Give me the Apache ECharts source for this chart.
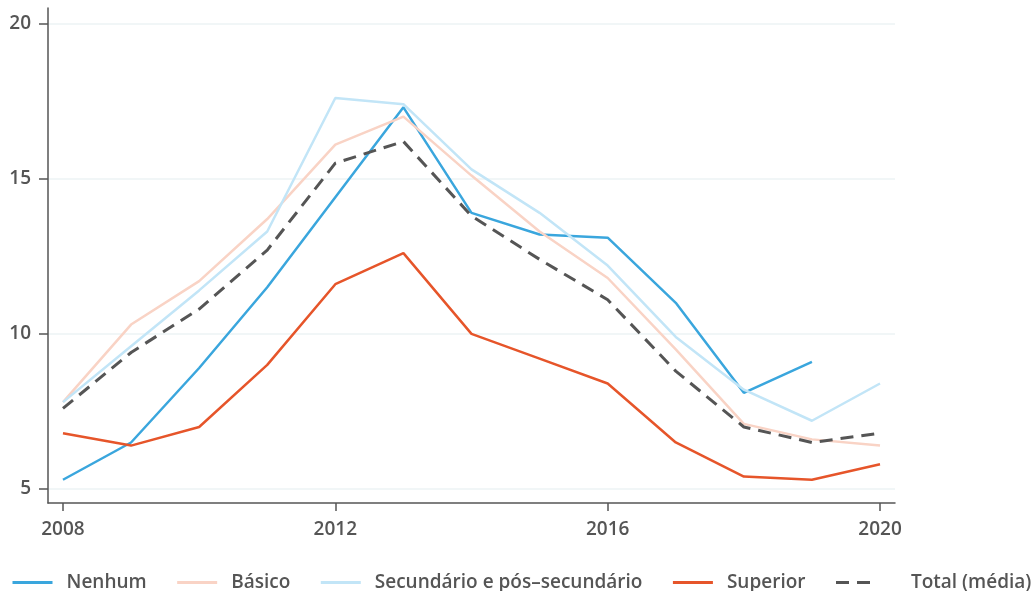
<!DOCTYPE html>
<html>
<head>
<meta charset="utf-8">
<script src="https://cdn.jsdelivr.net/npm/echarts@6/dist/echarts.min.js"></script>
<style>
  html, body { margin: 0; padding: 0; background: #fff; }
  #chart { width: 1034px; height: 591px; }
</style>
</head>
<body>
<div id="chart"></div>
<script>
  // anos e valores
  var years = [2008, 2009, 2010, 2011, 2012, 2013, 2014, 2015, 2016, 2017, 2018, 2019, 2020];
  var nenhum = [5.3, 6.5, 8.9, 11.5, 14.4, 17.3, 13.9, 13.2, 13.1, 11.0, 8.1, 9.1, null];
  var basico = [7.8, 10.3, 11.7, 13.7, 16.1, 17.0, 15.1, 13.3, 11.8, 9.5, 7.1, 6.6, 6.4];
  var secundario = [7.8, 9.6, 11.4, 13.3, 17.6, 17.4, 15.3, 13.9, 12.2, 9.9, 8.2, 7.2, 8.4];
  var superior = [6.8, 6.4, 7.0, 9.0, 11.6, 12.6, 10.0, 9.2, 8.4, 6.5, 5.4, 5.3, 5.8];
  var total = [7.6, 9.4, 10.8, 12.7, 15.5, 16.2, 13.8, 12.4, 11.1, 8.8, 7.0, 6.5, 6.8];
  var xTicks = [2008, 2012, 2016, 2020];
  var yTicks = [5, 10, 15, 20];
  var nomes = ['Nenhum', 'Básico', 'Secundário e pós\u2013secundário', 'Superior', 'Total (média)'];

  var font = '"Open Sans", "Noto Sans", sans-serif';

  function pares(vals) {
    var out = [];
    for (var i = 0; i < years.length; i++) {
      out.push([years[i], vals[i]]);
    }
    return out;
  }

  function serie(nome, vals, cor, tipo, largura) {
    return {
      name: nome,
      type: 'line',
      data: pares(vals),
      symbol: 'none',
      connectNulls: false,
      lineStyle: { color: cor, width: largura || 2.5, type: tipo || 'solid' },
      itemStyle: { color: cor }
    };
  }

  // a legenda do total tem a chave mais comprida, por isso mais espaço antes do texto
  var legendData = nomes.map(function (n, i) {
    var item = { name: n };
    if (i === nomes.length - 1) item.textStyle = { padding: [0, 0, 0, 30] };
    return item;
  });

  var chart = echarts.init(document.getElementById('chart'));
  chart.setOption({
    animation: false,
    grid: { left: 48, right: 139, top: 8, bottom: 88 },
    legend: {
      data: legendData,
      left: 6,
      top: 568,
      width: 1100,
      itemWidth: 40,
      itemHeight: 12,
      itemGap: 29,
      itemStyle: { opacity: 0 },
      lineStyle: { width: 3 },
      textStyle: { fontFamily: font, fontSize: 19, fontWeight: 600, color: '#555', padding: [0, 0, 0, 9] }
    },
    xAxis: {
      type: 'value',
      min: 2007.78,
      max: 2020.22,
      axisLine: { show: true, lineStyle: { color: '#555', width: 1.5 } },
      axisTick: { show: true, length: 8, customValues: xTicks, lineStyle: { color: '#555', width: 1.5 } },
      axisLabel: {
        customValues: xTicks,
        formatter: function (v) { return String(v); },
        fontFamily: font, fontSize: 19, fontWeight: 600, color: '#555', margin: 17
      },
      splitLine: { show: false }
    },
    yAxis: {
      type: 'value',
      min: 4.55,
      max: 20.5,
      axisLine: { show: true, lineStyle: { color: '#555', width: 1.5 } },
      axisTick: { show: true, length: 9, customValues: yTicks, lineStyle: { color: '#555', width: 1.5 } },
      axisLabel: { customValues: yTicks, fontFamily: font, fontSize: 19, fontWeight: 600, color: '#555', margin: 17 },
      splitLine: { show: true, lineStyle: { color: '#edf3f5', width: 1.5 } }
    },
    series: [
      serie(nomes[0], nenhum, '#3aa6dd'),
      serie(nomes[1], basico, '#f9d3c5'),
      serie(nomes[2], secundario, '#c2e5f7'),
      serie(nomes[3], superior, '#e6552a'),
      serie(nomes[4], total, '#555555', [13, 8], 3)
    ]
  });
</script>
</body>
</html>
